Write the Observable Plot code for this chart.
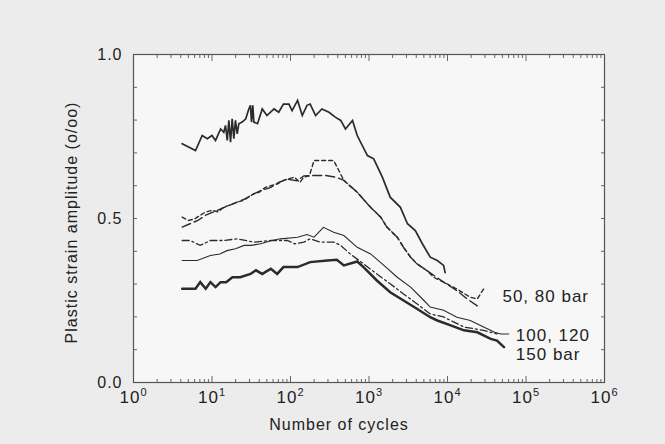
<!DOCTYPE html>
<html><head><meta charset="utf-8">
<script src="https://cdn.jsdelivr.net/npm/d3@7"></script>
<script src="https://cdn.jsdelivr.net/npm/@observablehq/plot@0.6"></script>
<style>
html,body{margin:0;padding:0;background:#ececec;}
#chart{width:665px;height:444px;}
svg text{font-family:"Liberation Sans",Arial,Helvetica,sans-serif;}
</style></head><body><div id="chart"></div>
<script>
// ---- data: log10(number of cycles) and plastic strain amplitude (o/oo) ----
const topLog = [0.62,0.79,0.875,0.94,1.0,1.045,1.11,1.15,1.172,1.194,1.215,1.236,1.257,1.278,1.299,1.321,1.342,1.384,1.43,1.469,1.49,1.503,1.52,1.533,1.58,1.64,1.70,1.79,1.85,1.91,1.98,2.02,2.09,2.15,2.21,2.25,2.32,2.40,2.49,2.57,2.64,2.70,2.79,2.85,2.98,3.06,3.17,3.27,3.40,3.49,3.59,3.68,3.78,3.87,3.95,3.97];
const topStrain = [0.728,0.707,0.753,0.743,0.753,0.738,0.773,0.763,0.784,0.738,0.799,0.733,0.804,0.743,0.799,0.758,0.789,0.794,0.804,0.834,0.845,0.794,0.845,0.794,0.789,0.834,0.814,0.834,0.824,0.849,0.849,0.829,0.860,0.814,0.845,0.849,0.814,0.834,0.824,0.809,0.799,0.773,0.799,0.753,0.692,0.682,0.626,0.565,0.534,0.484,0.463,0.423,0.382,0.372,0.357,0.335];

const bar50Log = [0.62,0.70,0.78,0.85,0.92,1.0,1.08,1.15,1.22,1.32,1.40,1.53,1.60,1.68,1.75,1.83,1.90,1.96,2.05,2.12,2.17,2.24,2.30,2.42,2.55,2.68,2.85,3.02,3.15,3.23,3.36,3.44,3.53,3.61,3.74,3.83,3.95,4.12,4.29,4.38,4.46];
const bar50Strain = [0.504,0.494,0.499,0.51,0.52,0.525,0.52,0.535,0.54,0.55,0.555,0.575,0.58,0.595,0.60,0.605,0.615,0.62,0.626,0.61,0.626,0.63,0.677,0.677,0.677,0.616,0.58,0.534,0.504,0.473,0.443,0.412,0.382,0.362,0.341,0.32,0.306,0.285,0.26,0.255,0.285];

const bar80Log = [0.62,0.72,0.82,0.92,1.02,1.12,1.22,1.32,1.42,1.53,1.62,1.75,1.85,1.96,2.08,2.17,2.30,2.45,2.58,2.68,2.85,3.02,3.15,3.23,3.36,3.44,3.53,3.61,3.74,3.95,4.12,4.25,4.40];
const bar80Strain = [0.474,0.484,0.494,0.51,0.52,0.53,0.54,0.55,0.56,0.575,0.585,0.595,0.61,0.62,0.615,0.63,0.631,0.631,0.626,0.616,0.58,0.534,0.504,0.473,0.443,0.412,0.382,0.362,0.341,0.306,0.28,0.255,0.23];

const bar100Log = [0.62,0.72,0.85,0.98,1.15,1.32,1.53,1.75,1.96,2.05,2.17,2.25,2.38,2.55,2.64,2.76,2.93,3.10,3.27,3.44,3.61,3.78,3.95,4.21,4.46,4.63];
const bar100Strain = [0.433,0.433,0.418,0.433,0.433,0.438,0.428,0.433,0.433,0.423,0.428,0.438,0.428,0.428,0.418,0.392,0.362,0.331,0.301,0.270,0.240,0.209,0.20,0.169,0.159,0.148];

const bar120Log = [0.62,0.81,0.98,1.10,1.19,1.30,1.41,1.50,1.62,1.75,1.87,2.09,2.21,2.30,2.42,2.55,2.68,2.85,3.02,3.19,3.36,3.53,3.70,3.78,3.95,4.12,4.29,4.46,4.60,4.68,4.78];
const bar120Strain = [0.372,0.372,0.387,0.392,0.402,0.408,0.418,0.418,0.423,0.432,0.438,0.443,0.451,0.443,0.473,0.458,0.448,0.412,0.392,0.357,0.321,0.291,0.25,0.23,0.22,0.199,0.189,0.169,0.153,0.148,0.148];

const bar150Log = [0.62,0.79,0.85,0.92,0.98,1.045,1.11,1.18,1.26,1.36,1.49,1.56,1.64,1.75,1.83,1.91,2.09,2.25,2.47,2.59,2.68,2.85,2.93,3.10,3.27,3.44,3.61,3.78,3.87,4.04,4.21,4.38,4.55,4.63,4.72];
const bar150Strain = [0.286,0.286,0.306,0.286,0.306,0.291,0.306,0.306,0.321,0.321,0.331,0.342,0.331,0.347,0.331,0.352,0.352,0.367,0.372,0.374,0.357,0.369,0.352,0.311,0.275,0.25,0.225,0.199,0.189,0.174,0.159,0.153,0.133,0.128,0.108];

const labelTexts = ["50, 80 bar", "100, 120", "150 bar"];
const labelLog = [4.70, 4.87, 4.87];
const labelStrain = [0.262, 0.142, 0.084];

const yTickValues = [0,0.1,0.2,0.3,0.4,0.5,0.6,0.7,0.8,0.9,1.0];
const yTickLabels = [0, 0.5, 1.0];
const xDecades = [0,1,2,3,4,5,6];
const xMinorSteps = [2,3,4,5,6,7,8,9];

// ---- build tables ----
const toRows = (logs, vals) => logs.map((l, i) => ({cycles: Math.pow(10, l), strain: vals[i]}));
const xMajor = xDecades.map(k => Math.pow(10, k));
const xMinor = xDecades.slice(0, -1).flatMap(k => xMinorSteps.map(m => m * Math.pow(10, k)));
const labels = labelTexts.map((t, i) => ({text: t, cycles: Math.pow(10, labelLog[i]), strain: labelStrain[i]}));

const ink = "#2b2b2b";
const axisInk = "#666";
const blank = () => "";

const lineOpts = (extra) => Object.assign({x: "cycles", y: "strain", stroke: ink, strokeLinejoin: "miter", strokeMiterlimit: 3}, extra);

const chart = Plot.plot({
  width: 665, height: 444,
  marginLeft: 133, marginRight: 61, marginTop: 54, marginBottom: 62,
  style: {background: "#ececec", fontFamily: "'Liberation Sans', Arial, sans-serif", fontSize: "16px", color: "#222"},
  x: {type: "log", domain: [1, 1e6]},
  y: {domain: [0, 1]},
  marks: [
    Plot.frame({fill: "#f7f7f7", stroke: null}),
    Plot.axisY(yTickValues, {anchor: "left", tickSize: -4, tickFormat: blank, label: null, stroke: axisInk}),
    Plot.axisY(yTickValues, {anchor: "right", tickSize: -4, tickFormat: blank, label: null, stroke: axisInk}),
    Plot.axisY(yTickLabels, {anchor: "left", tickSize: 0, tickPadding: 11, tickFormat: d => d.toFixed(1), label: null, fill: "#222", fontSize: 16}),
    Plot.axisX(xMinor, {anchor: "bottom", tickSize: -3, tickFormat: blank, label: null, stroke: axisInk}),
    Plot.axisX(xMinor, {anchor: "top", tickSize: -3, tickFormat: blank, label: null, stroke: axisInk}),
    Plot.axisX(xMajor, {anchor: "bottom", tickSize: -6, tickFormat: blank, label: null, stroke: axisInk}),
    Plot.axisX(xMajor, {anchor: "top", tickSize: -6, tickFormat: blank, label: null, stroke: axisInk}),
    Plot.axisX(xMajor, {anchor: "bottom", tickSize: 0, tickPadding: 8, tickFormat: d => "10^" + Math.round(Math.log10(d)), label: null, fill: "#222", fontSize: 17}),
    Plot.line(toRows(topLog, topStrain), lineOpts({strokeWidth: 1.7})),
    Plot.line(toRows(bar50Log, bar50Strain), lineOpts({strokeWidth: 1.4, strokeDasharray: "4,3"})),
    Plot.line(toRows(bar80Log, bar80Strain), lineOpts({strokeWidth: 1.4, strokeDasharray: "9,4"})),
    Plot.line(toRows(bar100Log, bar100Strain), lineOpts({strokeWidth: 1.3, strokeDasharray: "7,3,2,3"})),
    Plot.line(toRows(bar120Log, bar120Strain), lineOpts({strokeWidth: 1.1})),
    Plot.line(toRows(bar150Log, bar150Strain), lineOpts({strokeWidth: 2.5})),
    Plot.frame({stroke: "#555", strokeWidth: 1.2}),
    Plot.text(labels, {x: "cycles", y: "strain", text: "text", textAnchor: "start", fontSize: 17, fill: "#222"}),
    Plot.text(["Number of cycles"], {frameAnchor: "bottom", textAnchor: "middle", dx: -30, dy: 42, fontSize: 16, fill: "#222", lineAnchor: "middle"}),
    Plot.text(["Plastic strain amplitude (o/oo)"], {frameAnchor: "left", textAnchor: "middle", dx: -62, dy: 4, rotate: -90, fontSize: 16, fill: "#222", lineAnchor: "middle"})
  ]
});

// superscript exponents on the x tick labels
const svgns = "http://www.w3.org/2000/svg";
chart.querySelectorAll("text").forEach(t => {
  const s = t.textContent;
  if (/^10\^\d$/.test(s)) {
    const k = s.split("^")[1];
    t.textContent = "10";
    const ts = document.createElementNS(svgns, "tspan");
    ts.setAttribute("dy", "-0.6em");
    ts.setAttribute("font-size", "0.65em");
    ts.textContent = k;
    t.appendChild(ts);
  }
  t.style.letterSpacing = "1px";
});
document.getElementById("chart").appendChild(chart);
</script>
</body></html>
